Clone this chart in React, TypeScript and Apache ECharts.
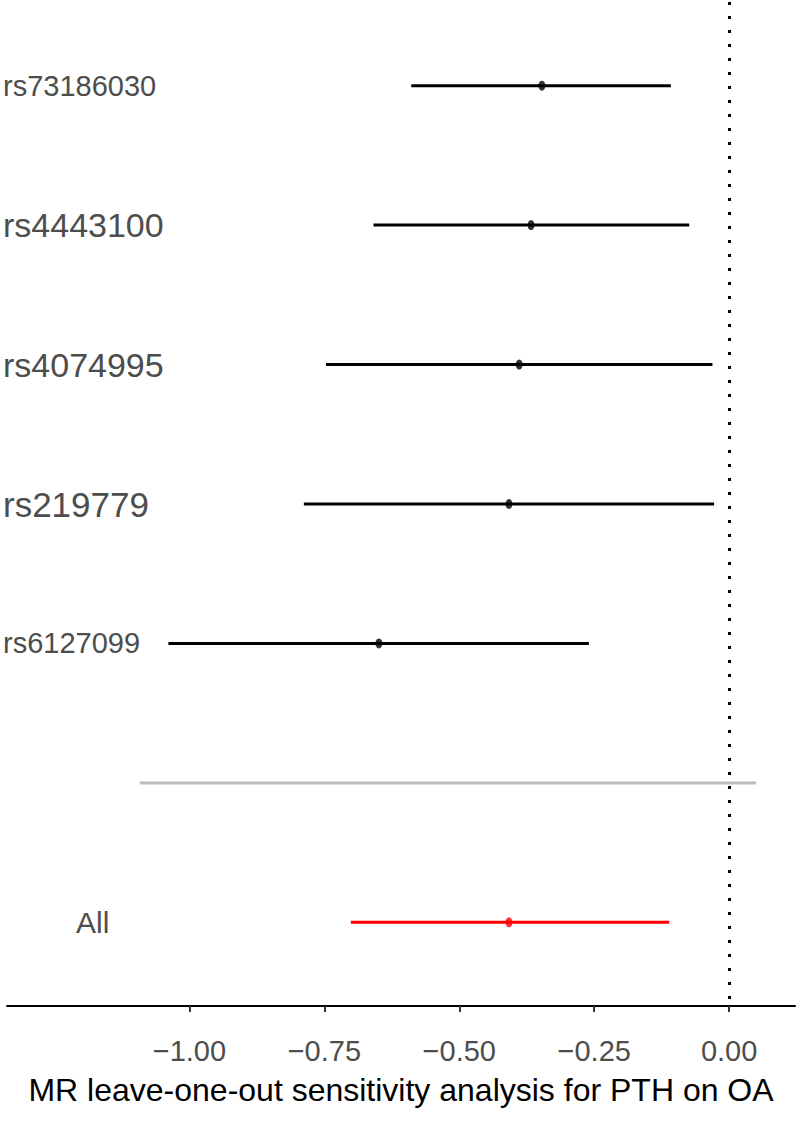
import React, { useEffect, useRef } from "react";
import * as echarts from "echarts";

const snps = ["rs73186030", "rs4443100", "rs4074995", "rs219779", "rs6127099", "", "All"];
const estimate = [-0.347, -0.367, -0.389, -0.408, -0.649, null, -0.408];
const lower = [-0.589, -0.659, -0.747, -0.788, -1.039, null, -0.701];
const upper = [-0.108, -0.074, -0.031, -0.028, -0.26, null, -0.111];
const separator = [-1.092, 0.05];
const xTicks = [-1.0, -0.75, -0.5, -0.25, 0.0];

const FONT = "Liberation Sans, Arial, sans-serif";
const labelSizes = [29, 34, 34, 35, 29, 30, 30];

export default function App() {
  const ref = useRef<HTMLDivElement>(null);
  useEffect(() => {
    if (!ref.current) return;
    const chart = echarts.init(ref.current, undefined, { renderer: "svg" });
    const positions = snps.map((_, i) => i + 1);
    const bars: any[] = [];
    snps.forEach((s, i) => {
      if (lower[i] != null && upper[i] != null) {
        bars.push({ value: [lower[i], upper[i], i + 1], color: s === "All" ? "#ff0000" : "#000000" });
      }
    });
    const sepIndex = snps.indexOf("") + 1;
    const points: any[] = [];
    snps.forEach((s, i) => {
      if (estimate[i] != null) {
        points.push({ value: [estimate[i], i + 1], itemStyle: { color: s === "All" ? "#ff0000" : "#000000" } });
      }
    });
    const renderBar = (color: string, width: number) => (params: any, api: any) => {
      const p1 = api.coord([api.value(0), api.value(2)]);
      const p2 = api.coord([api.value(1), api.value(2)]);
      return {
        type: "line",
        shape: { x1: p1[0], y1: p1[1], x2: p2[0], y2: p2[1] },
        style: { stroke: color, lineWidth: width },
      };
    };
    const rich: any = {};
    snps.forEach((s, i) => {
      rich["r" + i] = {
        fontSize: labelSizes[i],
        fontFamily: FONT,
        color: "#4d4d4d",
        padding: s === "All" ? [0, 0, 0, 73] : [0, 0, 0, 0],
      };
    });
    chart.setOption({
      animation: false,
      grid: { left: 4, right: 3, top: 2, bottom: 115, containLabel: false },
      xAxis: {
        type: "value",
        min: -1.338,
        max: 0.122,
        splitLine: { show: false },
        axisLine: { show: true, onZero: false, lineStyle: { color: "#000", width: 2 } },
        axisTick: { show: true, customValues: xTicks, length: 6, lineStyle: { color: "#333", width: 2 } },
        axisLabel: {
          customValues: xTicks,
          margin: 30,
          fontSize: 29,
          fontFamily: FONT,
          color: "#4d4d4d",
          formatter: (v: number) => (v < 0 ? "\u2212" + Math.abs(v).toFixed(2) : v.toFixed(2)),
        },
        name: "MR leave-one-out sensitivity analysis for PTH on OA",
        nameLocation: "middle",
        nameGap: 68,
        nameTextStyle: { fontSize: 32, fontFamily: FONT, color: "#000" },
      },
      yAxis: {
        type: "value",
        min: 0.4,
        max: 7.6,
        inverse: true,
        splitLine: { show: false },
        axisLine: { show: false },
        axisTick: { show: false },
        axisLabel: {
          customValues: positions,
          align: "left",
          margin: 4,
          fontSize: 30,
          fontFamily: FONT,
          color: "#4d4d4d",
          formatter: (v: number) => {
            const i = Math.round(v) - 1;
            const s = snps[i] || "";
            if (!s) return "";
            return "{r" + i + "|" + s + "}";
          },
          rich,
        },
      },
      series: [
        {
          type: "custom",
          renderItem: renderBar("#bebebe", 3),
          data: [[separator[0], separator[1], sepIndex]],
          z: 1,
        },
        {
          type: "custom",
          renderItem: (params: any, api: any) => {
            const d = bars[params.dataIndex];
            return renderBar(d.color, 3)(params, api);
          },
          data: bars.map((b) => b.value),
          z: 2,
          markLine: {
            silent: true,
            symbol: "none",
            label: { show: false },
            lineStyle: { color: "#000", width: 3, type: [3, 11] },
            data: [{ xAxis: 0 }],
          },
        },
        {
          type: "scatter",
          symbol: "circle",
          symbolSize: [7, 10],
          data: points,
          z: 3,
        },
      ],
    });
    return () => chart.dispose();
  }, []);
  return <div ref={ref} style={{ position: "absolute", left: 0, top: 0, width: 798, height: 1121 }} />;
}
